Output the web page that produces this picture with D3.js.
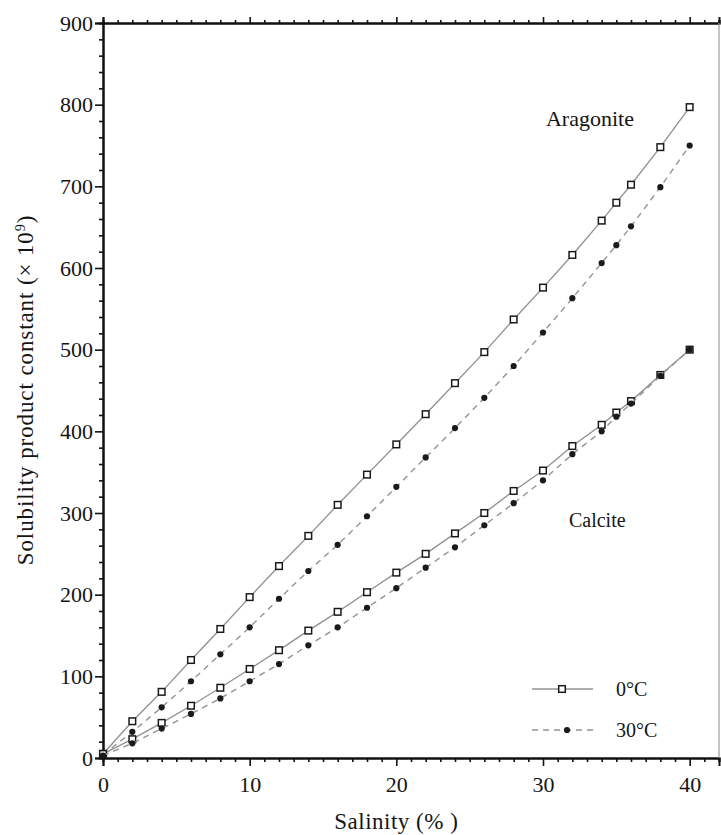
<!DOCTYPE html>
<html>
<head>
<meta charset="utf-8">
<script src="https://cdn.jsdelivr.net/npm/d3@7"></script>
<style>
  html, body { margin: 0; padding: 0; background: #fff; }
  svg { display: block; }
  text { font-family: "Liberation Serif", "DejaVu Serif", serif; fill: #151515; }
</style>
</head>
<body>
<svg id="chart" width="721" height="835"></svg>
<script>
// ---- data ----
const salinity = [0, 2, 4, 6, 8, 10, 12, 14, 16, 18, 20, 22, 24, 26, 28, 30, 32, 34, 35, 36, 38, 40];
const aragonite0 = [5, 45, 81, 120, 158, 197, 235, 272, 310, 347, 384, 421, 459, 497, 537, 576, 616, 658, 680, 702, 748, 797];
const aragonite30 = [4, 32, 62, 94, 127, 160, 195, 229, 261, 296, 332, 368, 404, 441, 480, 521, 563, 606, 628, 651, 699, 750];
const calcite0 = [5, 23, 43, 64, 86, 109, 132, 156, 179, 203, 227, 250, 275, 300, 327, 352, 382, 408, 423, 437, 469, 500];
const calcite30 = [3, 18, 36, 54, 73, 94, 115, 138, 160, 184, 208, 233, 258, 285, 312, 340, 372, 400, 418, 434, 468, 500];
const xMajorTicks = [0, 10, 20, 30, 40];
const yMajorTicks = [0, 100, 200, 300, 400, 500, 600, 700, 800, 900];
const legendLabels = ["0\u00B0C", "30\u00B0C"];
const mineralLabels = ["Aragonite", "Calcite"];

const svg = d3.select("#chart");
const L = 103, R = 719, T = 23, B = 758;
const x = d3.scaleLinear().domain([0, 42]).range([L, R]);
const y = d3.scaleLinear().domain([0, 900]).range([B, T]);

const xMinor = d3.range(0, 43, 1).filter(v => v % 10 !== 0);
const yMinor = d3.range(0, 901, 20).filter(v => v % 100 !== 0);

const axisColor = "#111";
const fs = 22;

// bottom axis
const gB = svg.append("g").attr("transform", `translate(0,${B})`);
gB.call(d3.axisBottom(x).tickValues(xMinor).tickSize(4).tickFormat(""));
gB.call(g => g.append("g").call(d3.axisBottom(x).tickValues(xMajorTicks).tickSize(8).tickFormat(d3.format("d"))));
// top axis
const gT = svg.append("g").attr("transform", `translate(0,${T})`);
gT.call(d3.axisTop(x).tickValues(xMinor).tickSize(3).tickFormat(""));
gT.call(g => g.append("g").call(d3.axisTop(x).tickValues(xMajorTicks).tickSize(6).tickFormat("")));
// left axis
const gL = svg.append("g").attr("transform", `translate(${L},0)`);
gL.call(d3.axisLeft(y).tickValues(yMinor).tickSize(4).tickFormat(""));
gL.call(g => g.append("g").call(d3.axisLeft(y).tickValues(yMajorTicks).tickSize(8).tickFormat(d3.format("d"))));

svg.selectAll(".domain").attr("stroke", axisColor).attr("stroke-width", 2);
svg.selectAll(".tick line").attr("stroke", axisColor).attr("stroke-width", 1.6);
svg.selectAll(".tick text").attr("font-size", fs).attr("font-family", "Liberation Serif, serif").attr("fill", "#151515");
gB.selectAll(".tick text").attr("dy", "1.05em");
gL.selectAll(".tick text").attr("x", -10);

// right border
svg.append("line").attr("x1", R).attr("x2", R).attr("y1", T).attr("y2", B)
  .attr("stroke", "#9a9a9a").attr("stroke-width", 1.2);

// series
const series = [
  { vals: aragonite0, dashed: false },
  { vals: aragonite30, dashed: true },
  { vals: calcite0, dashed: false },
  { vals: calcite30, dashed: true }
];
const line = d3.line().x(d => x(d[0])).y(d => y(d[1]));
series.forEach(s => {
  const pts = salinity.map((v, i) => [v, s.vals[i]]);
  svg.append("path").datum(pts).attr("d", line)
    .attr("fill", "none").attr("stroke", "#939393").attr("stroke-width", 1.4)
    .attr("stroke-dasharray", s.dashed ? "6,5" : null);
  if (s.dashed) {
    svg.append("g").selectAll("circle").data(pts).join("circle")
      .attr("cx", d => x(d[0])).attr("cy", d => y(d[1])).attr("r", 3.1)
      .attr("fill", "#1a1a1a");
  } else {
    svg.append("g").selectAll("rect").data(pts).join("rect")
      .attr("x", d => x(d[0]) - 3.3).attr("y", d => y(d[1]) - 3.3)
      .attr("width", 6.6).attr("height", 6.6)
      .attr("fill", "#fff").attr("stroke", "#1a1a1a").attr("stroke-width", 1.5);
  }
});

// mineral labels
svg.append("text").attr("x", x(33.2)).attr("y", y(783)).attr("dy", "0.35em")
  .attr("text-anchor", "middle").attr("font-size", 22).text(mineralLabels[0]);
svg.append("text").attr("x", x(33.7)).attr("y", y(292)).attr("dy", "0.35em")
  .attr("text-anchor", "middle").attr("font-size", 20).text(mineralLabels[1]);

// legend
const legY = [689, 730];
legendLabels.forEach((lab, i) => {
  const g = svg.append("g");
  g.append("line").attr("x1", 532).attr("x2", 593).attr("y1", legY[i]).attr("y2", legY[i])
    .attr("stroke", "#939393").attr("stroke-width", 1.4)
    .attr("stroke-dasharray", i === 1 ? "6,5" : null);
  if (i === 0) {
    g.append("rect").attr("x", 562 - 3.3).attr("y", legY[i] - 3.3).attr("width", 6.6).attr("height", 6.6)
      .attr("fill", "#fff").attr("stroke", "#1a1a1a").attr("stroke-width", 1.5);
  } else {
    g.append("circle").attr("cx", 567).attr("cy", legY[i]).attr("r", 3.1).attr("fill", "#1a1a1a");
  }
  g.append("text").attr("x", 616).attr("y", legY[i]).attr("dy", "0.35em")
    .attr("font-size", 20).text(lab);
});

// axis titles
svg.append("text").attr("x", x(20)).attr("y", 829).attr("text-anchor", "middle")
  .attr("font-size", 23).attr("letter-spacing", 0.5).text("Salinity (% )");
const yt = svg.append("text").attr("transform", "translate(33,390) rotate(-90)")
  .attr("text-anchor", "middle").attr("font-size", 23).attr("letter-spacing", 0.9);
yt.append("tspan").text("Solubility product constant (\u00D7 10");
yt.append("tspan").attr("dy", -8).attr("font-size", 14).text("9");
yt.append("tspan").attr("dy", 8).text(")");
</script>
</body>
</html>
